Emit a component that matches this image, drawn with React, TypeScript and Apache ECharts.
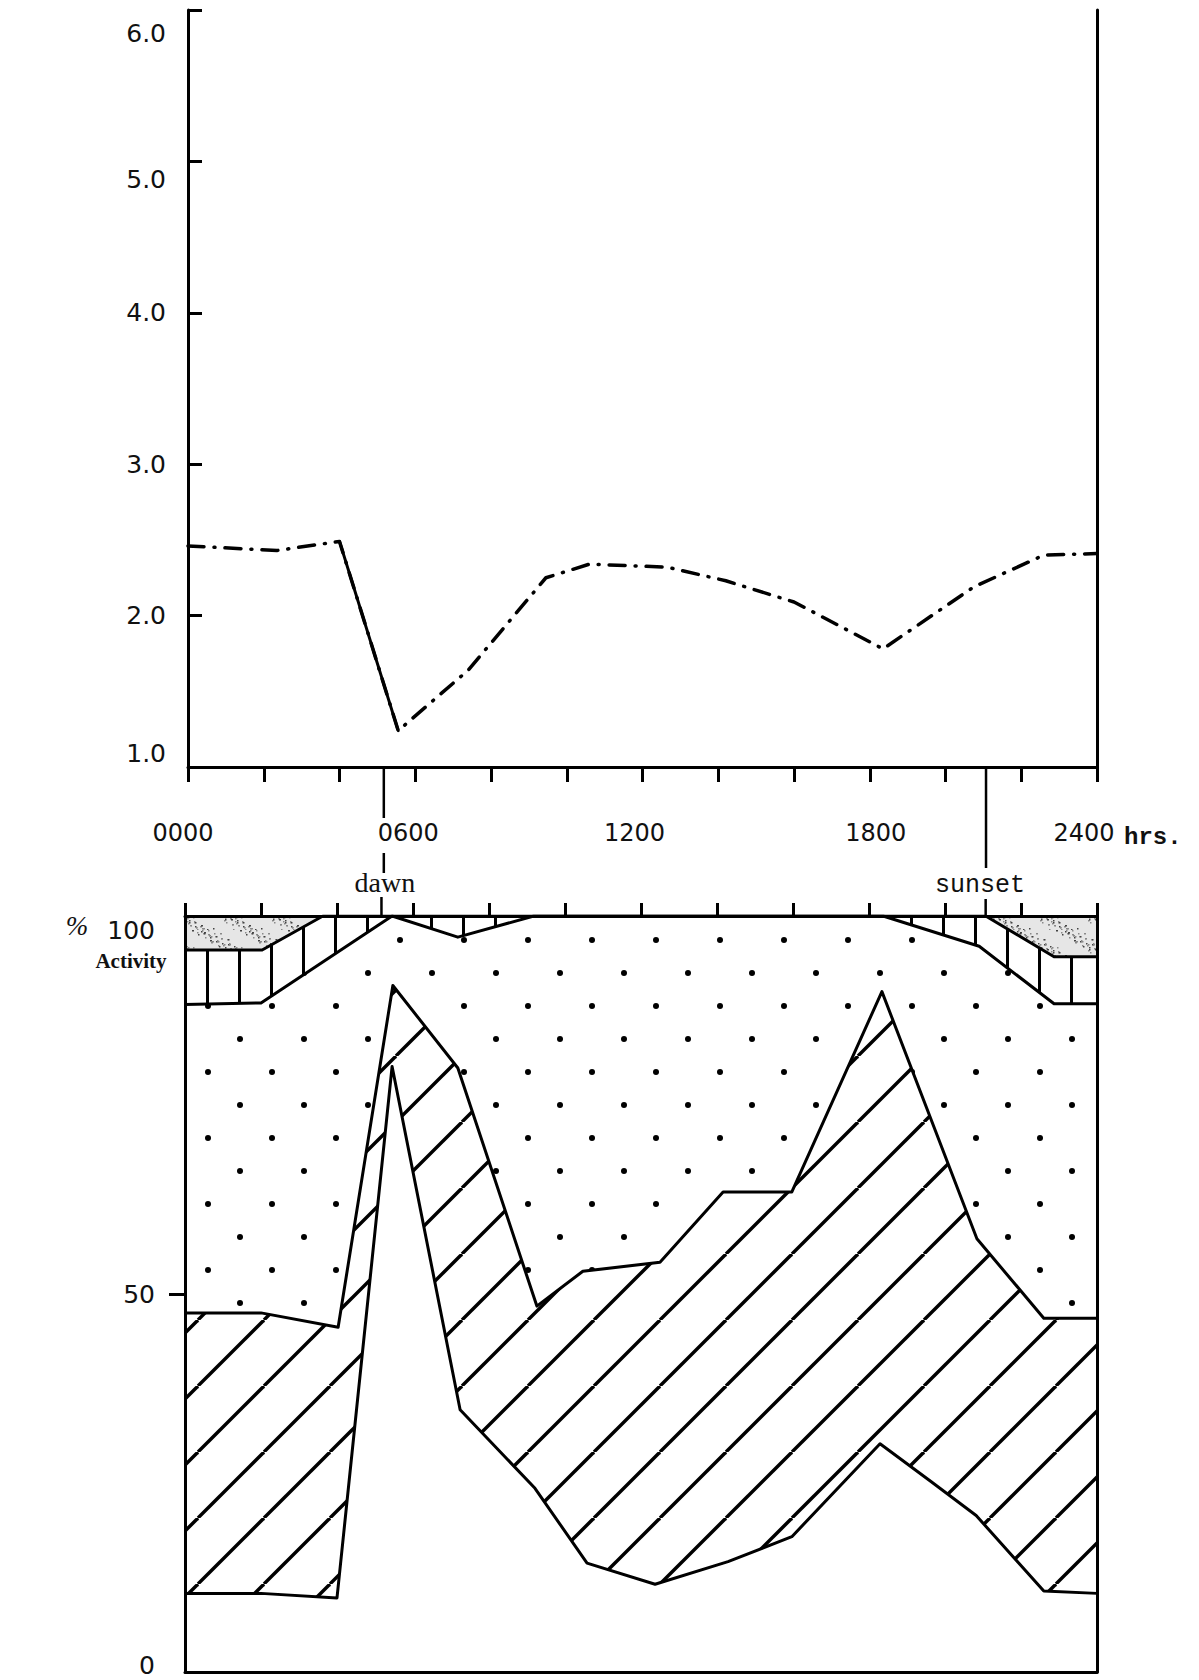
import React, { useEffect, useRef } from "react";
import * as echarts from "echarts";

// ---------- data ----------
const xTickLabels = ["0000", "0600", "1200", "1800", "2400"];
const topYLabels = ["1.0", "2.0", "3.0", "4.0", "5.0", "6.0"];
const bottomYLabels = ["0", "50", "100"];

// upper panel: dash-dot curve
const topHours = [0, 2.35, 4.0, 5.55, 7.4, 9.45, 10.6, 12.65, 14.2, 16.0, 18.35, 20.75, 22.6, 24];
const topValues = [2.46, 2.43, 2.49, 1.24, 1.64, 2.25, 2.34, 2.32, 2.23, 2.09, 1.78, 2.19, 2.4, 2.41];
// the segment drawn as a solid stroke in the original (indices into the arrays above)
const solidSegment = [2, 3];

// lower panel: cumulative % activity boundaries
const whiteTopHours = [0, 2.0, 4.0, 5.45, 7.24, 9.21, 10.58, 12.37, 14.29, 15.97, 18.29, 19.63, 20.82, 22.6, 24];
const whiteTopValues = [10.4, 10.4, 9.8, 80.1, 34.7, 24.3, 14.4, 11.6, 14.6, 17.9, 30.2, 25.2, 20.7, 10.7, 10.4];

const hatchTopHours = [0, 2.0, 4.03, 5.47, 7.18, 9.26, 10.47, 12.5, 14.16, 15.97, 18.34, 20.84, 22.6, 24];
const hatchTopValues = [47.5, 47.5, 45.6, 90.8, 79.9, 48.4, 53.0, 54.2, 63.5, 63.5, 90.0, 57.3, 46.8, 46.8];

const dotTopHours = [0, 2.0, 5.45, 7.18, 9.18, 18.37, 20.9, 22.87, 24];
const dotTopValues = [88.3, 88.5, 100, 97.2, 100, 100, 96.0, 88.4, 88.4];

const stripeTopHours = [0, 2.03, 3.63, 21.07, 22.87, 24];
const stripeTopValues = [95.5, 95.5, 100, 100, 94.6, 94.6];

const stippleHours = [0, 24];
const stippleValues = [100, 100];

const dawnHour = 5.17;
const sunsetHour = 21.07;

const zip = (xs: number[], ys: number[]) => xs.map((x, i) => [x, ys[i]]);

function makePattern(w: number, h: number, draw: (ctx: CanvasRenderingContext2D) => void) {
  const c = document.createElement("canvas");
  c.width = w;
  c.height = h;
  const ctx = c.getContext("2d") as CanvasRenderingContext2D;
  draw(ctx);
  return { image: c.toDataURL(), repeat: "repeat", imageWidth: w, imageHeight: h } as any;
}

export default function App() {
  const ref = useRef<HTMLDivElement>(null);

  useEffect(() => {
    const el = ref.current as HTMLDivElement;
    const chart = echarts.init(el, undefined, { renderer: "svg" });

    const stipple = makePattern(48, 30, (ctx) => {
      ctx.fillStyle = "#e6e6e6";
      ctx.fillRect(0, 0, 48, 30);
      for (let i = 0; i < 70; i++) {
        const x = (i * 37 + (i % 5) * 3) % 48;
        const y = (i * 23 + ((i * i) % 7)) % 30;
        ctx.fillStyle = i % 3 === 0 ? "#444" : "#8a8a8a";
        ctx.fillRect(x, y, i % 4 === 0 ? 2 : 1.5, 1.5);
      }
    });
    const stripes = makePattern(32, 8, (ctx) => {
      ctx.fillStyle = "#fff";
      ctx.fillRect(0, 0, 32, 8);
      ctx.fillStyle = "#000";
      ctx.fillRect(14, 0, 3, 8);
    });
    const dots = makePattern(64, 66, (ctx) => {
      ctx.fillStyle = "#fff";
      ctx.fillRect(0, 0, 64, 66);
      ctx.fillStyle = "#000";
      ctx.beginPath();
      ctx.arc(16, 16, 3, 0, Math.PI * 2);
      ctx.fill();
      ctx.beginPath();
      ctx.arc(48, 49, 3, 0, Math.PI * 2);
      ctx.fill();
    });
    const hatch = makePattern(66, 66, (ctx) => {
      ctx.fillStyle = "#fff";
      ctx.fillRect(0, 0, 66, 66);
      ctx.strokeStyle = "#000";
      ctx.lineWidth = 3.4;
      for (const k of [-66, 0, 66]) {
        ctx.beginPath();
        ctx.moveTo(k, 66);
        ctx.lineTo(k + 66, 0);
        ctx.stroke();
      }
    });

    const axisLine = { show: true, onZero: false, lineStyle: { color: "#000", width: 3 } };
    const tickStyle = { color: "#000", width: 3 };
    const font = { fontFamily: "DejaVu Sans", color: "#111" };

    const xRich = {
      a: { ...font, fontSize: 24, padding: [0, 10, 0, 0] },
      b: { ...font, fontSize: 24, padding: [0, 14, 0, 0] },
      c: { ...font, fontSize: 24, padding: [0, 16, 0, 0] },
      d: { ...font, fontSize: 24, padding: [0, 0, 0, 12] },
      e: { ...font, fontSize: 24, padding: [0, 26, 0, 0] },
    };
    const xKeys = ["a", "b", "c", "d", "e"];

    const topYRich = {
      n: { ...font, fontSize: 25 },
      u: { ...font, fontSize: 25, padding: [0, 0, 28, 0] },
      d5: { ...font, fontSize: 25, padding: [36, 0, 0, 0] },
      d6: { ...font, fontSize: 25, padding: [46, 0, 0, 0] },
    };
    const botYRich = {
      n: { ...font, fontSize: 25 },
      u: { ...font, fontSize: 25, padding: [0, 0, 14, 0] },
      d: { ...font, fontSize: 25, padding: [28, 0, 0, 0] },
    };

    const bandSeries = (name: string, hours: number[], vals: number[], fill: any, lineW: number) => ({
      name,
      type: "line",
      xAxisIndex: 2,
      yAxisIndex: 2,
      data: zip(hours, vals),
      symbol: "none",
      lineStyle: { color: "#000", width: lineW, join: "round" },
      areaStyle: { color: fill, opacity: 1 },
      silent: true,
    });

    const option: any = {
      animation: false,
      backgroundColor: "#fff",
      grid: [
        { left: 188, top: 10, width: 909, height: 757, outerBoundsMode: "none", containLabel: false },
        { left: 185, top: 916, width: 912, height: 756, outerBoundsMode: "none", containLabel: false },
      ],
      xAxis: [
        {
          gridIndex: 0,
          type: "value",
          min: 0,
          max: 24,
          interval: 2,
          position: "bottom",
          z: 10,
          axisLine,
          axisTick: { show: true, inside: false, length: 15, lineStyle: tickStyle },
          axisLabel: {
            show: true,
            margin: 54,
            showMinLabel: true,
            showMaxLabel: true,
            formatter: (v: number) => (v % 6 === 0 ? `{${xKeys[v / 6]}|${xTickLabels[v / 6]}}` : ""),
            rich: xRich,
          },
          splitLine: { show: false },
        },
        {
          gridIndex: 1,
          type: "value",
          min: 0,
          max: 24,
          interval: 2,
          position: "top",
          z: 10,
          axisLine,
          axisTick: { show: true, inside: false, length: 13, lineStyle: tickStyle },
          axisLabel: { show: false },
          splitLine: { show: false },
        },
        {
          gridIndex: 1,
          type: "value",
          min: 0,
          max: 24,
          interval: 2,
          position: "bottom",
          z: 10,
          axisLine,
          axisTick: { show: false },
          axisLabel: { show: false },
          splitLine: { show: false },
        },
      ],
      yAxis: [
        {
          gridIndex: 0,
          type: "value",
          min: 1,
          max: 6,
          interval: 1,
          position: "left",
          z: 10,
          axisLine,
          axisTick: { show: true, inside: true, length: 14, lineStyle: tickStyle },
          axisLabel: {
            margin: 22,
            formatter: (v: number) => {
              const k = v === 6 ? "d6" : v === 5 ? "d5" : v === 1 ? "u" : "n";
              return `{${k}|${topYLabels[v - 1]}}`;
            },
            rich: topYRich,
          },
          splitLine: { show: false },
        },
        {
          gridIndex: 0,
          type: "value",
          min: 1,
          max: 6,
          position: "right",
          z: 10,
          axisLine,
          axisTick: { show: false },
          axisLabel: { show: false },
          splitLine: { show: false },
        },
        {
          gridIndex: 1,
          type: "value",
          min: 0,
          max: 100,
          interval: 50,
          position: "left",
          z: 10,
          axisLine,
          axisTick: { show: true, inside: false, length: 16, lineStyle: tickStyle, customValues: [50] },
          axisLabel: {
            margin: 30,
            formatter: (v: number) => {
              const k = v === 100 ? "d" : v === 0 ? "u" : "n";
              return `{${k}|${bottomYLabels[v / 50]}}`;
            },
            rich: botYRich,
          },
          splitLine: { show: false },
        },
        {
          gridIndex: 1,
          type: "value",
          min: 0,
          max: 100,
          position: "right",
          z: 10,
          axisLine,
          axisTick: { show: false },
          axisLabel: { show: false },
          splitLine: { show: false },
        },
      ],
      series: [
        {
          name: "upper",
          type: "line",
          xAxisIndex: 0,
          yAxisIndex: 0,
          data: zip(topHours, topValues),
          symbol: "none",
          lineStyle: { color: "#000", width: 3.5, type: [16, 10, 1, 10], cap: "round", join: "round" },
          silent: true,
        },
        {
          name: "upper-solid",
          type: "line",
          xAxisIndex: 0,
          yAxisIndex: 0,
          data: zip(topHours.slice(solidSegment[0], solidSegment[1] + 1), topValues.slice(solidSegment[0], solidSegment[1] + 1)),
          symbol: "none",
          lineStyle: { color: "#000", width: 3, cap: "round" },
          silent: true,
        },
        { ...bandSeries("stipple", stippleHours, stippleValues, stipple, 0), lineStyle: { width: 0, opacity: 0 } },
        bandSeries("stripes", stripeTopHours, stripeTopValues, stripes, 3),
        bandSeries("dots", dotTopHours, dotTopValues, dots, 3),
        bandSeries("hatch", hatchTopHours, hatchTopValues, hatch, 3),
        bandSeries("white", whiteTopHours, whiteTopValues, "#fff", 3),
      ],
    };

    chart.setOption(option);

    const xd = chart.convertToPixel({ xAxisIndex: 0 }, dawnHour) as number;
    const xs = chart.convertToPixel({ xAxisIndex: 0 }, sunsetHour) as number;
    const xd2 = chart.convertToPixel({ xAxisIndex: 1 }, dawnHour) as number;
    const xs2 = chart.convertToPixel({ xAxisIndex: 1 }, sunsetHour) as number;
    const x24 = chart.convertToPixel({ xAxisIndex: 0 }, 24) as number;
    const y0 = chart.convertToPixel({ yAxisIndex: 0 }, 1) as number;
    const yb = chart.convertToPixel({ yAxisIndex: 2 }, 100) as number;
    const lx = chart.convertToPixel({ xAxisIndex: 2 }, 0) as number;

    const ln = (x: number, ya: number, yb2: number) => ({
      type: "line",
      shape: { x1: x, y1: ya, x2: x, y2: yb2 },
      style: { stroke: "#000", lineWidth: 2.5 },
      z: 20,
    });
    const txt = (x: number, y: number, text: string, extra: any) => ({
      type: "text",
      x,
      y,
      z: 20,
      style: { text, fill: "#111", verticalAlign: "middle", ...extra },
    });

    chart.setOption({
      graphic: [
        ln(xd, y0, y0 + 51),
        ln(xd, y0 + 86, y0 + 106),
        ln(xd2, yb - 19, yb),
        ln(xs, y0, y0 + 101),
        ln(xs2, yb - 17, yb),
        txt(xd + 1, y0 + 115, "dawn", { align: "center", font: "28px 'Liberation Serif'" }),
        txt(xs - 6, y0 + 118, "sunset", { align: "center", font: "25px 'Liberation Mono'" }),
        txt(x24 + 27, y0 + 70, "hrs.", { align: "left", font: "bold 24px 'Liberation Mono'" }),
        txt(lx - 108, yb + 10, "%", { align: "center", font: "italic 27px 'Liberation Serif'" }),
        txt(lx - 54, yb + 45, "Activity", { align: "center", font: "bold 21px 'Liberation Serif'" }),
      ],
    });

    return () => chart.dispose();
  }, []);

  return (
    <div
      ref={ref}
      style={{ position: "absolute", left: 0, top: 0, width: 1199, height: 1680, background: "#fff" }}
    />
  );
}
